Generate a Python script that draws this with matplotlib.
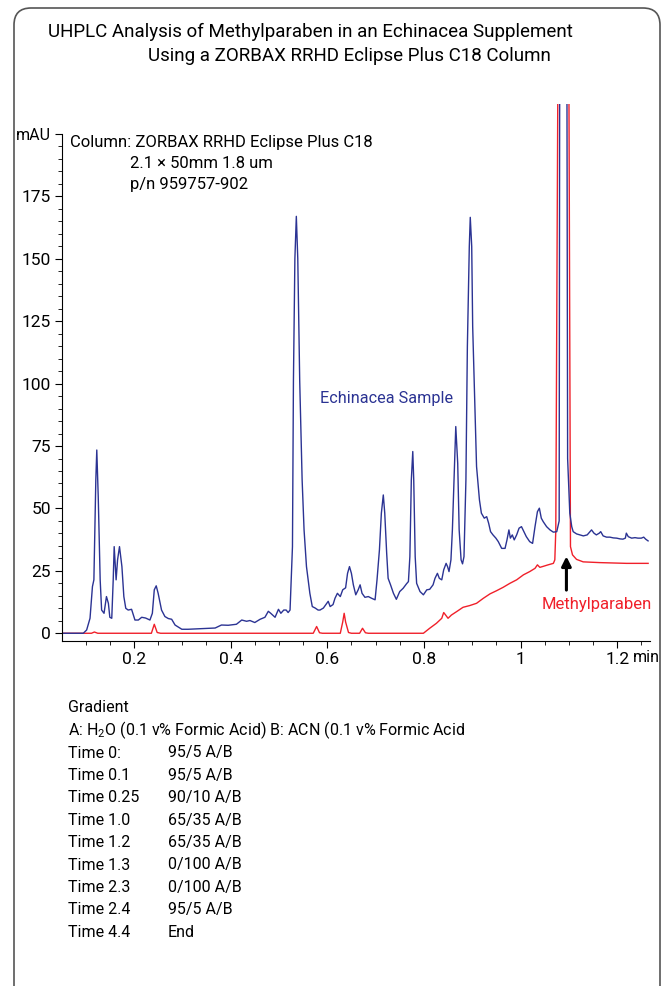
import numpy as np
import matplotlib.pyplot as plt
from matplotlib.patches import FancyBboxPatch
from matplotlib.ticker import MultipleLocator, FixedLocator

# Fonts
plt.rcParams['font.family'] = ['Roboto', 'DejaVu Sans']
plt.rcParams['mathtext.fontset'] = 'custom'
plt.rcParams['mathtext.rm'] = 'Roboto'

# Echinacea sample trace (time in min, absorbance in mAU)
blue_t = [0.051, 0.095, 0.102, 0.109, 0.114, 0.117, 0.121, 0.123, 0.126, 0.130,
          0.133, 0.138, 0.143, 0.147, 0.150, 0.154, 0.157, 0.159, 0.163, 0.166,
          0.170, 0.175, 0.179, 0.183, 0.188, 0.195, 0.202, 0.209, 0.216, 0.224,
          0.233, 0.238, 0.242, 0.246, 0.250, 0.257, 0.264, 0.271, 0.278, 0.285,
          0.299, 0.312, 0.347, 0.368, 0.381, 0.395, 0.412, 0.423, 0.433, 0.440,
          0.450, 0.461, 0.471, 0.478, 0.483, 0.492, 0.499, 0.504, 0.510, 0.515,
          0.519, 0.523, 0.528, 0.530, 0.533, 0.536, 0.539, 0.543, 0.548, 0.552,
          0.557, 0.564, 0.569, 0.575, 0.581, 0.585, 0.592, 0.599, 0.602, 0.606,
          0.612, 0.616, 0.621, 0.627, 0.632, 0.638, 0.642, 0.646, 0.650, 0.654,
          0.659, 0.664, 0.668, 0.672, 0.678, 0.685, 0.692, 0.699, 0.703, 0.708,
          0.712, 0.716, 0.719, 0.723, 0.726, 0.731, 0.737, 0.743, 0.750, 0.757,
          0.764, 0.768, 0.771, 0.774, 0.777, 0.779, 0.782, 0.785, 0.792, 0.799,
          0.806, 0.812, 0.819, 0.823, 0.828, 0.832, 0.837, 0.841, 0.846, 0.849,
          0.852, 0.856, 0.859, 0.863, 0.866, 0.870, 0.873, 0.877, 0.880, 0.883,
          0.887, 0.890, 0.894, 0.896, 0.899, 0.901, 0.906, 0.909, 0.915, 0.919,
          0.925, 0.930, 0.934, 0.938, 0.943, 0.949, 0.954, 0.961, 0.968, 0.972,
          0.976, 0.979, 0.983, 0.987, 0.992, 0.997, 1.002, 1.007, 1.012, 1.019,
          1.025, 1.030, 1.035, 1.039, 1.043, 1.047, 1.054, 1.061, 1.068, 1.075,
          1.080, 1.081, 1.0886, 1.0960, 1.0975, 1.102, 1.106, 1.109, 1.116, 1.123,
          1.130, 1.138, 1.142, 1.147, 1.152, 1.157, 1.163, 1.166, 1.171, 1.178,
          1.185, 1.192, 1.199, 1.206, 1.212, 1.217, 1.219, 1.223, 1.230, 1.237,
          1.243, 1.250, 1.255, 1.259, 1.264]
blue_v = [0, 0, 1.3, 6.0, 18.7, 21.4, 61.4, 73.4, 54.7, 21.4,
          9.3, 8.0, 14.7, 12.0, 6.4, 6.0, 21.4, 34.7, 21.4, 29.4,
          34.7, 26.7, 14.7, 10.0, 9.3, 9.6, 5.3, 5.3, 6.4, 6.1,
          5.3, 8.0, 17.4, 19.0, 16.0, 9.3, 6.7, 5.9, 5.6, 3.3,
          1.6, 1.6, 1.9, 2.1, 3.3, 3.2, 3.6, 5.3, 4.8, 5.1,
          4.3, 5.6, 6.4, 8.8, 8.0, 6.4, 9.6, 8.0, 9.3, 9.3,
          8.3, 9.3, 34.7, 101, 150, 167, 150, 101, 61.4, 41.4,
          26.7, 16.0, 10.7, 10.1, 9.3, 9.3, 10.1, 12.0, 12.8, 10.7,
          11.5, 14.0, 16.0, 14.7, 17.4, 18.2, 24.0, 26.7, 24.0, 19.4,
          15.4, 17.4, 19.4, 16.0, 14.4, 14.7, 14.0, 13.4, 21.4, 33.4,
          48.1, 55.4, 48.1, 32.0, 22.0, 19.4, 16.0, 13.6, 16.7, 18.0,
          19.8, 20.7, 30.7, 61.4, 72.8, 61.4, 30.7, 20.0, 16.7, 15.4,
          17.4, 17.6, 19.4, 22.0, 24.0, 22.0, 21.4, 25.4, 28.0, 26.7,
          24.7, 29.4, 41.4, 65.4, 82.8, 68.1, 41.4, 29.4, 27.8, 30.7,
          61.4, 114.8, 154.9, 166.6, 154.9, 122.8, 88.1, 66.8, 53.4, 48.1,
          46.1, 46.7, 44.1, 40.7, 39.4, 38.1, 36.7, 34.0, 34.0, 37.4,
          41.4, 38.1, 39.4, 37.4, 39.4, 42.1, 42.7, 40.7, 38.7, 36.7,
          36.0, 42.7, 48.7, 50.1, 46.1, 44.7, 42.7, 41.4, 40.5, 40.7,
          45.0, 230, 900, 230, 70, 48.1, 42.7, 40.7, 39.8, 39.4,
          39.0, 39.4, 40.3, 41.4, 40.1, 39.4, 40.1, 40.7, 39.0, 38.5,
          38.5, 38.2, 38.1, 37.8, 37.7, 38.1, 40.1, 38.7, 38.1, 38.3,
          38.1, 38.1, 38.5, 37.7, 37.0]

# Methylparaben standard trace
red_t = [0.051, 0.112, 0.118, 0.125, 0.236, 0.242, 0.248, 0.255, 0.571, 0.578,
         0.584, 0.590, 0.627, 0.632, 0.635, 0.638, 0.644, 0.650, 0.667, 0.673,
         0.679, 0.685, 0.799, 0.812, 0.826, 0.837, 0.841, 0.845, 0.850, 0.857,
         0.868, 0.881, 0.895, 0.909, 0.923, 0.937, 0.950, 0.964, 0.978, 0.992,
         1.006, 1.019, 1.030, 1.035, 1.040, 1.047, 1.057, 1.068, 1.071, 1.073,
         1.0775, 1.0890, 1.1000, 1.1034, 1.1076, 1.1159, 1.1297, 1.1641, 1.2193, 1.2641]
red_v = [0, 0, 0.5, 0, 0, 3.6, 0.3, 0, 0, 2.7,
         0.2, 0, 0, 4.5, 8.0, 4.5, 0.3, 0, 0, 2.0,
         0.2, 0, 0, 2.0, 4.0, 6.0, 8.3, 7.3, 6.0, 7.3,
         8.7, 10.4, 11.1, 12.0, 14.0, 15.8, 17.0, 18.4, 20.0, 21.4,
         23.4, 24.7, 26.0, 27.4, 26.4, 26.8, 27.4, 28.0, 29.4, 41.0,
         230, 900, 230, 34.7, 31.4, 29.6, 28.6, 28.3, 28.0, 28.0]

x_ticks = [0.2, 0.4, 0.6, 0.8, 1.0, 1.2]
x_labels = ['0.2', '0.4', '0.6', '0.8', '1', '1.2']
y_ticks = [0, 25, 50, 75, 100, 125, 150, 175, 200]
y_labels = ['0', '25', '50', '75', '100', '125', '150', '175', 'mAU']

gradient_times = ['Time 0:', 'Time 0.1', 'Time 0.25', 'Time 1.0', 'Time 1.2',
                  'Time 1.3', 'Time 2.3', 'Time 2.4', 'Time 4.4']
gradient_mix = ['95/5 A/B', '95/5 A/B', '90/10 A/B', '65/35 A/B', '65/35 A/B',
                '0/100 A/B', '0/100 A/B', '95/5 A/B', 'End']

BLUE = '#2b3393'
RED = '#f0202a'
W, H = 667, 986


def fx(px):
    return px / W


def fy(py):
    return 1 - py / H


fig = plt.figure(figsize=(W / 100, H / 100), dpi=100)

# Outer frame with rounded top corners (bottom runs off the page)
frame = FancyBboxPatch((0.14, -0.5), 6.46, 10.28,
                       boxstyle='round,pad=0,rounding_size=0.17',
                       transform=fig.dpi_scale_trans, fill=False,
                       edgecolor='#555555', linewidth=1.2)
fig.patches.append(frame)

# Title
fig.text(fx(48), fy(32), 'UHPLC Analysis of Methylparaben in an Echinacea Supplement',
         fontsize=13.5, va='center', ha='left')
fig.text(fx(148), fy(56), 'Using a ZORBAX RRHD Eclipse Plus C18 Column',
         fontsize=13.5, va='center', ha='left')

# Chromatogram axes
ax = fig.add_axes([fx(62), fy(641), fx(650) - fx(62), fy(104) - fy(641)])
ax.plot(red_t, red_v, color=RED, lw=1.0)
ax.plot(blue_t, blue_v, color=BLUE, lw=1.0)
ax.set_xlim(0.051, 1.268)
ax.set_ylim(-3.1, 212)

for side in ['top', 'right']:
    ax.spines[side].set_visible(False)
ax.spines['left'].set_bounds(-3.1, 200)
ax.spines['left'].set_linewidth(0.8)
ax.spines['bottom'].set_linewidth(0.8)

ax.xaxis.set_major_locator(FixedLocator(x_ticks))
ax.set_xticklabels(x_labels)
ax.xaxis.set_minor_locator(MultipleLocator(0.05))
ax.yaxis.set_major_locator(FixedLocator(y_ticks))
ax.set_yticklabels(y_labels)
ax.yaxis.set_minor_locator(FixedLocator(np.arange(0, 201, 5)))
ax.tick_params(which='major', length=5, width=0.8, labelsize=12.5, pad=3)
ax.tick_params(which='minor', length=3, width=0.6)
ax.get_yticklabels()[-1].set_fontsize(11.5)  # 'mAU' sits close to the frame
fig.text(fx(633), fy(657), 'min', fontsize=11.5, ha='left', va='center')

# Annotations inside the plot
fig.text(fx(70), fy(142), 'Column: ZORBAX RRHD Eclipse Plus C18',
         fontsize=12, va='center')
fig.text(fx(130), fy(163), '2.1 \u00d7 50mm 1.8 um', fontsize=12, va='center')
fig.text(fx(130), fy(185), 'p/n 959757-902', fontsize=12, va='center')
fig.text(fx(320), fy(398), 'Echinacea Sample', fontsize=11.7, color=BLUE,
         va='center')
fig.text(fx(542), fy(604), 'Methylparaben', fontsize=12, color=RED, va='center')
ax.annotate('', xy=(1.095, 30.8), xytext=(1.095, 17.3),
            arrowprops=dict(arrowstyle='-|>', color='black', lw=2.2,
                            mutation_scale=14, shrinkA=0, shrinkB=0))

# Gradient table under the chart
fig.text(fx(68), fy(708), 'Gradient', fontsize=11.5, va='center')
fig.text(fx(68), fy(730), 'A: H$_2$O (0.1 v% Formic Acid) B: ACN (0.1 v% Formic Acid',
         fontsize=11.5, va='center')
for i in range(len(gradient_times)):
    y = 753 + i * 22.4
    fig.text(fx(68), fy(y), gradient_times[i], fontsize=11.5, va='center')
    fig.text(fx(168), fy(y), gradient_mix[i], fontsize=11.5, va='center')

plt.savefig('out.png', dpi=100)
